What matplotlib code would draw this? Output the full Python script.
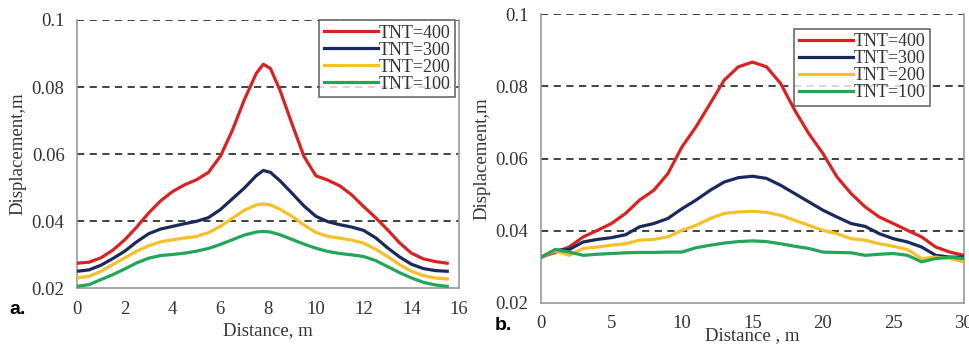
# two panels: TNT displacement vs distance

import numpy as np
import matplotlib.pyplot as plt

plt.rcParams['font.family'] = ['Liberation Serif', 'DejaVu Serif']

# panel a
xa = [0, 0.5, 1, 1.5, 2, 2.5, 3, 3.5, 4, 4.5, 5, 5.5, 6, 6.5, 7, 7.5, 7.8, 8.1,
      8.5, 9, 9.5, 10, 10.5, 11, 11.5, 12, 12.5, 13, 13.5, 14, 14.5, 15, 15.5]
a400 = [0.0274, 0.0277, 0.0290, 0.0313, 0.0344, 0.0382, 0.0424, 0.0460, 0.0488, 0.0508,
        0.0523, 0.0545, 0.0593, 0.0670, 0.0761, 0.0840, 0.0868, 0.0855, 0.0790, 0.0690,
        0.0593, 0.0535, 0.0522, 0.0505, 0.0478, 0.0443, 0.0410, 0.0374, 0.0335, 0.0304,
        0.0287, 0.0279, 0.0274]
a300 = [0.0250, 0.0254, 0.0268, 0.0288, 0.0310, 0.0338, 0.0362, 0.0376, 0.0384, 0.0392,
        0.0399, 0.0410, 0.0434, 0.0466, 0.0498, 0.0535, 0.0551, 0.0545, 0.0520, 0.0483,
        0.0445, 0.0414, 0.0398, 0.0389, 0.0382, 0.0372, 0.0350, 0.0320, 0.0293, 0.0271,
        0.0258, 0.0252, 0.0250]
a200 = [0.0230, 0.0235, 0.0250, 0.0270, 0.0290, 0.0310, 0.0326, 0.0338, 0.0344, 0.0349,
        0.0354, 0.0365, 0.0384, 0.0408, 0.0432, 0.0448, 0.0451, 0.0448, 0.0435, 0.0414,
        0.0388, 0.0366, 0.0354, 0.0349, 0.0343, 0.0334, 0.0316, 0.0294, 0.0270, 0.0250,
        0.0237, 0.0230, 0.0227]
a100 = [0.0205, 0.0210, 0.0225, 0.0240, 0.0257, 0.0275, 0.0289, 0.0297, 0.0300, 0.0304,
        0.0310, 0.0318, 0.0330, 0.0344, 0.0358, 0.0367, 0.0369, 0.0367, 0.0359, 0.0345,
        0.0331, 0.0319, 0.0309, 0.0303, 0.0299, 0.0294, 0.0282, 0.0264, 0.0246, 0.0230,
        0.0217, 0.0209, 0.0205]

# panel b
xb = list(range(0, 31))
b400 = [0.0327, 0.0340, 0.0355, 0.0383, 0.0401, 0.0420, 0.0448, 0.0485, 0.0512, 0.0558,
        0.0632, 0.0688, 0.0752, 0.0817, 0.0854, 0.0867, 0.0854, 0.0808, 0.0734, 0.0669,
        0.0614, 0.0549, 0.0503, 0.0466, 0.0438, 0.0420, 0.0401, 0.0383, 0.0355, 0.0341,
        0.0332]
b300 = [0.0327, 0.0346, 0.0348, 0.0369, 0.0376, 0.0381, 0.0389, 0.0411, 0.0420, 0.0434,
        0.0461, 0.0485, 0.0512, 0.0535, 0.0547, 0.0551, 0.0545, 0.0526, 0.0503, 0.0480,
        0.0457, 0.0438, 0.0420, 0.0412, 0.0392, 0.0378, 0.0369, 0.0355, 0.0332, 0.0327,
        0.0327]
b200 = [0.0327, 0.0344, 0.0332, 0.0351, 0.0355, 0.0360, 0.0364, 0.0374, 0.0376, 0.0383,
        0.0401, 0.0415, 0.0434, 0.0448, 0.0452, 0.0454, 0.0451, 0.0443, 0.0429, 0.0415,
        0.0401, 0.0392, 0.0378, 0.0374, 0.0364, 0.0357, 0.0348, 0.0323, 0.0327, 0.0323,
        0.0314]
b100 = [0.0326, 0.0348, 0.0341, 0.0332, 0.0335, 0.0337, 0.0339, 0.0340, 0.0340, 0.0341,
        0.0341, 0.0353, 0.0360, 0.0366, 0.0370, 0.0372, 0.0370, 0.0364, 0.0357, 0.0351,
        0.0341, 0.0340, 0.0339, 0.0332, 0.0335, 0.0337, 0.0332, 0.0314, 0.0323, 0.0327,
        0.0323]

labels = ['TNT=400', 'TNT=300', 'TNT=200', 'TNT=100']
colors = ['#d92323', '#1b2a5c', '#f5c02a', '#23a55a']
yticks = [0.02, 0.04, 0.06, 0.08, 0.1]
ytick_labels = ['0.02', '0.04', '0.06', '0.08', '0.1']

fig = plt.figure(figsize=(9.7, 3.46), dpi=100)
ax1 = fig.add_axes([0.0794, 0.1676, 0.394, 0.7746])
ax2 = fig.add_axes([0.5577, 0.1243, 0.436, 0.835])


def style(ax, x, ys, xlim, xticks, leg_anchor):
    for y, c, lab in zip(ys, colors, labels):
        ax.plot(x, y, color=c, lw=2.3, label=lab, zorder=3)
    ax.set_xlim(*xlim)
    ax.set_ylim(0.02, 0.1)
    ax.set_xticks(xticks)
    ax.set_yticks(yticks)
    ax.set_yticklabels(ytick_labels)
    for v in [0.04, 0.06, 0.08, 0.1]:
        ax.axhline(v, color='#333333', lw=1.3, ls=(0, (4, 3)), zorder=2)
    for s in ['left', 'bottom', 'right']:
        ax.spines[s].set_color('#9a9a9a')
        ax.spines[s].set_linewidth(1.2)
    ax.spines['top'].set_visible(False)
    ax.tick_params(length=0, labelsize=13.5, pad=9, colors='#333333')
    leg = ax.legend(loc='upper right', bbox_to_anchor=leg_anchor, fontsize=13,
                    frameon=True, fancybox=False, edgecolor='#444444',
                    handlelength=3.0, handletextpad=0.05, labelspacing=0.0,
                    borderpad=0.25, borderaxespad=0)
    leg.get_frame().set_linewidth(1.2)
    for t in leg.get_texts():
        t.set_color('#333333')


style(ax1, xa, [a400, a300, a200, a100], (0, 16), range(0, 17, 2), (0.99, 1.0))
style(ax2, xb, [b400, b300, b200, b100], (0, 30), range(0, 31, 5), (0.92, 0.95))

ax1.set_xlabel('Distance, m', fontsize=13.5, labelpad=3, color='#333333')
ax1.set_ylabel('Displacement,m', fontsize=13.5, labelpad=4, color='#333333')
ax2.set_xlabel('Distance , m', fontsize=13.5, labelpad=-4, color='#333333')
ax2.set_ylabel('Displacement,m', fontsize=13.5, labelpad=4, color='#333333')

fig.text(0.010, 0.105, 'a.', fontsize=14, fontweight='bold',
         family=['Liberation Sans', 'DejaVu Sans'], va='center')
fig.text(0.510, 0.058, 'b.', fontsize=14, fontweight='bold',
         family=['Liberation Sans', 'DejaVu Sans'], va='center')

plt.savefig('out.png', dpi=100)
